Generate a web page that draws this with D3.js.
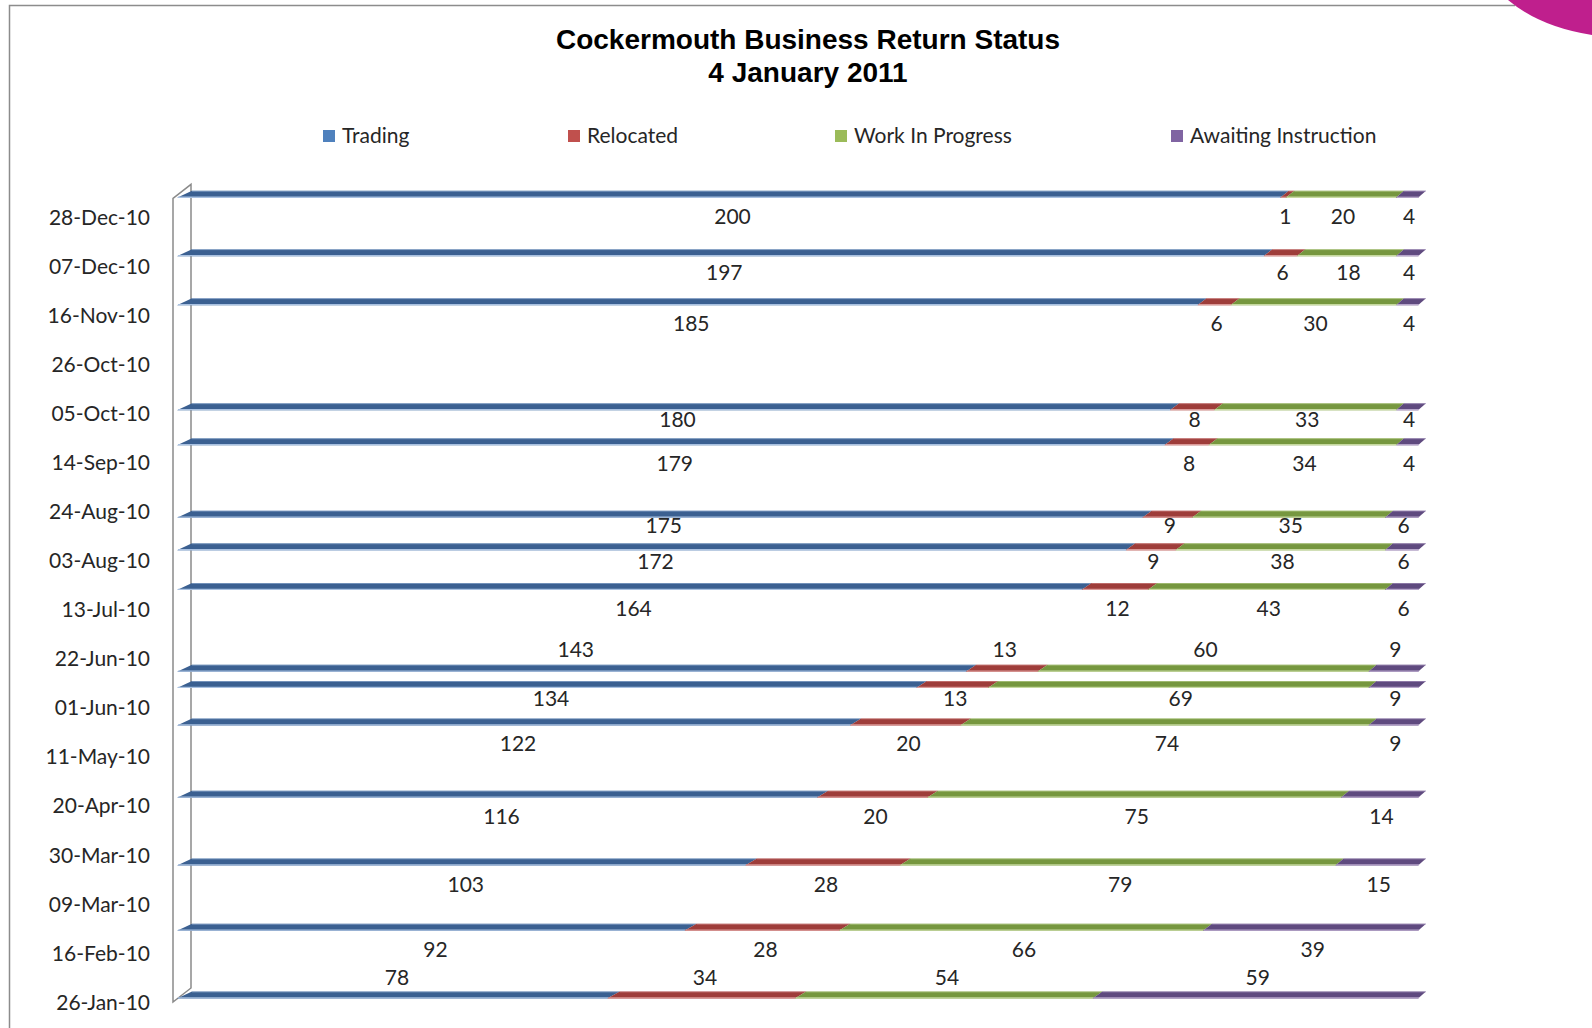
<!DOCTYPE html>
<html>
<head>
<meta charset="utf-8">
<script src="https://cdn.jsdelivr.net/npm/d3@7"></script>
<style>
  body { margin: 0; background: #fff; }
  #chart { width: 1592px; height: 1028px; }
  text { font-family: Lato, "Noto Sans", sans-serif; fill: #262626; }
  .title { font-family: "Liberation Sans", Arial, sans-serif; font-weight: bold; fill: #000; }
</style>
</head>
<body>
<div id="chart"></div>
<script>
// Data, oldest first
var dates = ["2010-01-26", "2010-02-24", "2010-03-24", "2010-04-22", "2010-05-23",
    "2010-06-08", "2010-06-15", "2010-07-20", "2010-08-06", "2010-08-20",
    "2010-09-20", "2010-10-05", "2010-11-19", "2010-12-10", "2011-01-04"];
var trading = [78, 92, 103, 116, 122, 134, 143, 164, 172, 175, 179, 180, 185, 197, 200];
var relocated = [34, 28, 28, 20, 20, 13, 13, 12, 9, 9, 8, 8, 6, 6, 1];
var workInProgress = [54, 66, 79, 75, 74, 69, 60, 43, 38, 35, 34, 33, 30, 18, 20];
var awaiting = [59, 39, 15, 14, 9, 9, 9, 6, 6, 6, 4, 4, 4, 4, 4];

var seriesNames = ["Trading", "Relocated", "Work In Progress", "Awaiting Instruction"];
var tickLabels = ["26-Jan-10", "16-Feb-10", "09-Mar-10", "30-Mar-10", "20-Apr-10", "11-May-10",
    "01-Jun-10", "22-Jun-10", "13-Jul-10", "03-Aug-10", "24-Aug-10", "14-Sep-10",
    "05-Oct-10", "26-Oct-10", "16-Nov-10", "07-Dec-10", "28-Dec-10"];
var axisMax = "2011-01-04";

// Colours
var legendColors = ["#4F81BD", "#C0504D", "#9BBB59", "#8064A2"];
var topColors = ["#3b6091", "#9e3d3a", "#76973f", "#5f4a7f"];
var edgeColors = ["#a9c1e1", "#dc9b99", "#c6d99f", "#b7a6cb"];

var width = 1592, height = 1028;
var svg = d3.select("#chart").append("svg")
    .attr("width", width)
    .attr("height", height);

var parseIso = d3.timeParse("%Y-%m-%d");
var parseTick = d3.timeParse("%d-%b-%y");

var rows = dates.map(function (d, i) {
    return {
        date: parseIso(d),
        values: [trading[i], relocated[i], workInProgress[i], awaiting[i]]
    };
});
var ticks = tickLabels.map(parseTick);

// Scales (front edge / back edge of the 3D slab)
var y = d3.scaleTime()
    .domain([ticks[0], ticks[ticks.length - 1]])
    .range([1002, 217.7]);
var total = d3.sum(rows[0].values);
var xFront = d3.scaleLinear().domain([0, total]).range([177, 1418]);
var xBack = d3.scaleLinear().domain([0, total]).range([192, 1426]);
var depthY = 7;   // bars sit half way into the depth
var half = 3.5;   // bar thickness / 2

// Frame and decoration
svg.append("path")
    .attr("d", "M9.5,1028 L9.5,5.5 L1515,5.5")
    .attr("fill", "none")
    .attr("stroke", "#8c8c8c")
    .attr("stroke-width", 1.5);
svg.append("path")
    .attr("d", "M1508,0 Q1540,27 1592,35 L1592,0 Z")
    .attr("fill", "#bf1f8d");

// Title
svg.append("text").attr("class", "title")
    .attr("x", 808).attr("y", 49)
    .attr("text-anchor", "middle")
    .style("font-size", "28px")
    .text("Cockermouth Business Return Status");
svg.append("text").attr("class", "title")
    .attr("x", 808).attr("y", 82)
    .attr("text-anchor", "middle")
    .style("font-size", "28px")
    .text("4 January 2011");

// Legend
var legendX = [323, 568, 835, 1171];
var legend = svg.append("g").attr("class", "legend");
seriesNames.forEach(function (name, i) {
    legend.append("rect")
        .attr("x", legendX[i]).attr("y", 130)
        .attr("width", 12).attr("height", 12)
        .attr("fill", legendColors[i]);
    legend.append("text")
        .attr("x", legendX[i] + 19).attr("y", 143)
        .style("font-size", "21px")
        .text(name);
});

// Side wall of the category axis
var wallTop = y(parseIso(axisMax)) - 3, wallBottom = y(ticks[0]);
var wallFrontX = xFront(0) - 4, wallBackX = xBack(0) - 1;
svg.append("path")
    .attr("d", "M" + wallFrontX + "," + wallBottom + " L" + wallFrontX + "," + wallTop +
        " L" + wallBackX + "," + (wallTop - 14) + " L" + wallBackX + "," + (wallBottom - 14) + " Z")
    .attr("fill", "none")
    .attr("stroke", "#8a8a8a")
    .attr("stroke-width", 1.5);

// Axis labels
svg.append("g").selectAll("text")
    .data(ticks)
    .enter().append("text")
    .attr("x", 150)
    .attr("y", function (d) { return y(d); })
    .attr("dy", "0.36em")
    .attr("text-anchor", "end")
    .style("font-size", "21px")
    .text(function (d, i) { return tickLabels[i]; });

// Bars
var stack = rows.map(function (r) {
    var acc = 0;
    return r.values.map(function (v) {
        var seg = [acc, acc + v, v];
        acc += v;
        return seg;
    });
});

var barG = svg.append("g").attr("class", "bars");
rows.forEach(function (r, i) {
    var yc = y(r.date) - depthY;
    stack[i].forEach(function (seg, k) {
        var pts = [
            [xFront(seg[0]), yc + half],
            [xFront(seg[1]), yc + half],
            [xBack(seg[1]), yc - half],
            [xBack(seg[0]), yc - half]
        ];
        barG.append("polygon")
            .attr("points", pts.map(function (p) { return p.join(","); }).join(" "))
            .attr("fill", topColors[k]);
        barG.append("line")
            .attr("x1", xFront(seg[0]) + 1).attr("x2", xFront(seg[1]) + 1)
            .attr("y1", yc + half - 0.6).attr("y2", yc + half - 0.6)
            .attr("stroke", edgeColors[k]).attr("stroke-width", 1.3);
        barG.append("line")
            .attr("x1", xBack(seg[0])).attr("x2", xBack(seg[1]))
            .attr("y1", yc - half + 0.4).attr("y2", yc - half + 0.4)
            .attr("stroke", edgeColors[k]).attr("stroke-width", 0.8)
            .attr("opacity", 0.7);
    });
});

// Data labels
var labelG = svg.append("g").attr("class", "labels");
rows.forEach(function (r, i) {
    var yc = y(r.date) - depthY;
    var off;
    if (i === 0) {
        off = -18;
    } else {
        var gap = y(rows[i - 1].date) - y(r.date);
        off = Math.min(22, gap / 2 - 5);
        if (off < 8) off = -19;
    }
    stack[i].forEach(function (seg) {
        var mid = (seg[0] + seg[1]) / 2;
        labelG.append("text")
            .attr("x", (xFront(mid) + xBack(mid)) / 2 - 2)
            .attr("y", yc + off)
            .attr("dy", "0.36em")
            .attr("text-anchor", "middle")
            .style("font-size", "21px")
            .text(seg[2]);
    });
});
</script>
</body>
</html>
